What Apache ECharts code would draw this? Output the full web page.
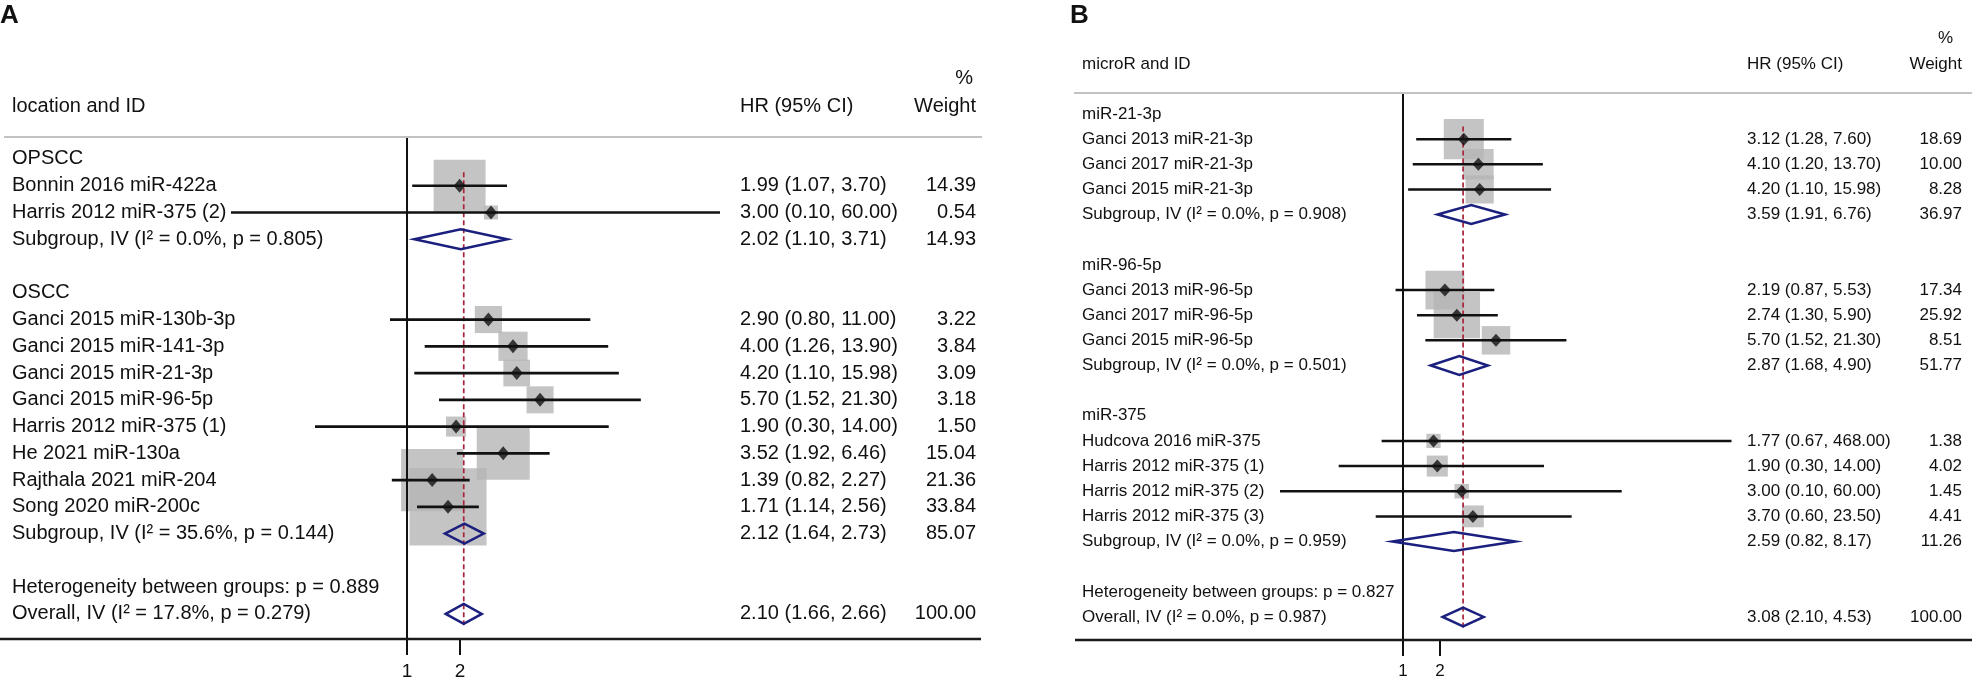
<!DOCTYPE html>
<html><head><meta charset="utf-8">
<script src="https://cdn.jsdelivr.net/npm/echarts@6.0.0/dist/echarts.min.js"></script>
<style>html,body{margin:0;padding:0;background:#fff}#c{width:1972px;height:680px}</style>
</head><body><div id="c"></div>
<script>
const FONT = "'Liberation Sans', Arial, Helvetica, sans-serif";

// ---------- Panel A data ----------
const rowsA = [
  "OPSCC",
  "Bonnin 2016 miR-422a",
  "Harris 2012 miR-375 (2)",
  "Subgroup, IV (I\u00b2 = 0.0%, p = 0.805)",
  "",
  "OSCC",
  "Ganci 2015 miR-130b-3p",
  "Ganci 2015 miR-141-3p",
  "Ganci 2015 miR-21-3p",
  "Ganci 2015 miR-96-5p",
  "Harris 2012 miR-375 (1)",
  "He 2021 miR-130a",
  "Rajthala 2021 miR-204",
  "Song 2020 miR-200c",
  "Subgroup, IV (I\u00b2 = 35.6%, p = 0.144)",
  "",
  "Heterogeneity between groups: p = 0.889",
  "Overall, IV (I\u00b2 = 17.8%, p = 0.279)"
];
const hrA = [null, 1.99, 3.00, 2.02, null, null, 2.90, 4.00, 4.20, 5.70, 1.90, 3.52, 1.39, 1.71, 2.12, null, null, 2.10];
const loA = [null, 1.07, 0.10, 1.10, null, null, 0.80, 1.26, 1.10, 1.52, 0.30, 1.92, 0.82, 1.14, 1.64, null, null, 1.66];
const hiA = [null, 3.70, 60.00, 3.71, null, null, 11.00, 13.90, 15.98, 21.30, 14.00, 6.46, 2.27, 2.56, 2.73, null, null, 2.66];
const wA  = [null, 14.39, 0.54, 14.93, null, null, 3.22, 3.84, 3.09, 3.18, 1.50, 15.04, 21.36, 33.84, 85.07, null, null, 100.00];
const pooledA = [3, 14, 17];
const overallA = 2.10;
const ticksA = [1, 2];

// ---------- Panel B data ----------
const rowsB = [
  "miR-21-3p",
  "Ganci 2013 miR-21-3p",
  "Ganci 2017 miR-21-3p",
  "Ganci 2015 miR-21-3p",
  "Subgroup, IV (I\u00b2 = 0.0%, p = 0.908)",
  "",
  "miR-96-5p",
  "Ganci 2013 miR-96-5p",
  "Ganci 2017 miR-96-5p",
  "Ganci 2015 miR-96-5p",
  "Subgroup, IV (I\u00b2 = 0.0%, p = 0.501)",
  "",
  "miR-375",
  "Hudcova 2016 miR-375",
  "Harris 2012 miR-375 (1)",
  "Harris 2012 miR-375 (2)",
  "Harris 2012 miR-375 (3)",
  "Subgroup, IV (I\u00b2 = 0.0%, p = 0.959)",
  "",
  "Heterogeneity between groups: p = 0.827",
  "Overall, IV (I\u00b2 = 0.0%, p = 0.987)"
];
const hrB = [null, 3.12, 4.10, 4.20, 3.59, null, null, 2.19, 2.74, 5.70, 2.87, null, null, 1.77, 1.90, 3.00, 3.70, 2.59, null, null, 3.08];
const loB = [null, 1.28, 1.20, 1.10, 1.91, null, null, 0.87, 1.30, 1.52, 1.68, null, null, 0.67, 0.30, 0.10, 0.60, 0.82, null, null, 2.10];
const hiB = [null, 7.60, 13.70, 15.98, 6.76, null, null, 5.53, 5.90, 21.30, 4.90, null, null, 468.00, 14.00, 60.00, 23.50, 8.17, null, null, 4.53];
const wB  = [null, 18.69, 10.00, 8.28, 36.97, null, null, 17.34, 25.92, 8.51, 51.77, null, null, 1.38, 4.02, 1.45, 4.41, 11.26, null, null, 100.00];
const pooledB = [4, 10, 17, 20];
const overallB = 3.08;
const ticksB = [1, 2];

// ---------- layout (positions / styles) ----------
const layoutA = {left:231, width:489, rowTop:145.6, band:26.76, frameTop:137, frameBottom:639,
  min:0.1, max:60, font:20, tickFont:19, labelX:12, hrX:740, wX:976,
  boxK:12.4, boxC:4.9, mark:[12,14], ciW:2.7};
const layoutB = {left:1280, width:455, rowTop:101.4, band:25.15, frameTop:93, frameBottom:640,
  min:0.1, max:500, font:17, tickFont:17, labelX:1082, hrX:1747, wX:1962,
  boxK:8.2, boxC:4.6, mark:[12,13], ciW:2.5};

const TXT = '#111';
const NAVY = '#1b1f7e';
const DASH = '#a8243a';

const option = {animation:false, backgroundColor:'#fff', grid:[], xAxis:[], yAxis:[], series:[], graphic:[]};

function addPanel(rows, hr, lo, hi, w, pooled, overall, ticks, L) {
  const n = rows.length;
  const g0 = option.grid.length, g1 = g0 + 1;
  const x0 = option.xAxis.length, x1 = x0 + 1;
  const y0 = option.yAxis.length, y3 = y0 + 3;
  const fmt = v => v.toFixed(2);
  const hrText = rows.map((_, i) => hr[i] == null ? '' : fmt(hr[i]) + ' (' + fmt(lo[i]) + ', ' + fmt(hi[i]) + ')');
  const wText = rows.map((_, i) => w[i] == null ? '' : fmt(w[i]));
  const studies = rows.map((_, i) => i).filter(i => hr[i] != null && pooled.indexOf(i) < 0);

  option.grid.push(
    {left:L.left, width:L.width, top:L.rowTop, height:L.band * n, containLabel:false, outerBoundsMode:'none'},
    {left:L.left, width:L.width, top:L.frameTop, height:L.frameBottom - L.frameTop, containLabel:false, outerBoundsMode:'none'}
  );
  option.xAxis.push(
    {type:'log', logBase:10, gridIndex:g0, min:L.min, max:L.max, show:false},
    {type:'log', logBase:10, gridIndex:g1, min:L.min, max:L.max,
      axisLine:{show:false}, splitLine:{show:false}, minorTick:{show:false},
      axisTick:{show:true, customValues:ticks, length:16, lineStyle:{color:TXT, width:2}},
      axisLabel:{customValues:ticks, fontSize:L.tickFont, fontFamily:FONT, color:TXT, margin:23}}
  );
  const cat = {type:'category', gridIndex:g0, inverse:true, axisLine:{show:false}, axisTick:{show:false}, splitLine:{show:false}};
  const lab = {interval:0, fontSize:L.font, fontFamily:FONT, color:TXT};
  const right = L.left + L.width;
  option.yAxis.push(
    Object.assign({}, cat, {position:'left', data:rows, axisLabel:Object.assign({}, lab, {align:'left', margin:L.left - L.labelX})}),
    Object.assign({}, cat, {position:'right', offset:0, data:hrText, axisLabel:Object.assign({}, lab, {align:'left', margin:L.hrX - right})}),
    Object.assign({}, cat, {position:'right', offset:0, data:wText, axisLabel:Object.assign({}, lab, {align:'right', margin:L.wX - right})}),
    {type:'value', gridIndex:g1, min:0, max:1, show:false}
  );

  // weight boxes
  option.series.push({
    type:'scatter', xAxisIndex:x0, yAxisIndex:y0, z:1, silent:true, clip:false,
    symbol:'rect', symbolSize: v => L.boxK * Math.sqrt(v[2]) + L.boxC,
    itemStyle:{color:'#b5b5b5'},
    data: studies.map(i => [hr[i], i, w[i]])
  });
  // overall dashed reference line (from first study row to overall row)
  option.series.push({
    type:'custom', xAxisIndex:x0, yAxisIndex:y0, z:2, silent:true,
    encode:{x:0, y:[1,2]},
    data:[[overall, studies[0], n - 1]],
    renderItem:(p, api) => {
      const a = api.coord([api.value(0), api.value(1)]);
      const b = api.coord([api.value(0), api.value(2)]);
      const hb = api.size([0, 1])[1] / 2;
      return {type:'line', shape:{x1:a[0], y1:a[1] - hb, x2:b[0], y2:b[1] + hb},
        style:{stroke:DASH, lineWidth:1.7, lineDash:[5,3]}};
    }
  });
  // confidence intervals
  option.series.push({
    type:'custom', xAxisIndex:x0, yAxisIndex:y0, z:3, silent:true,
    encode:{x:[0,1], y:2},
    data: studies.map(i => [lo[i], hi[i], i]),
    renderItem:(p, api) => {
      const a = api.coord([api.value(0), api.value(2)]);
      const b = api.coord([api.value(1), api.value(2)]);
      return {type:'line', shape:{x1:a[0], y1:a[1], x2:b[0], y2:b[1]},
        style:{stroke:TXT, lineWidth:L.ciW}};
    }
  });
  // point estimates
  option.series.push({
    type:'scatter', xAxisIndex:x0, yAxisIndex:y0, z:4, silent:true, clip:false,
    symbol:'diamond', symbolSize:L.mark, itemStyle:{color:TXT},
    data: studies.map(i => [hr[i], i])
  });
  // pooled diamonds
  option.series.push({
    type:'custom', xAxisIndex:x0, yAxisIndex:y0, z:4, silent:true,
    encode:{x:[0,1,2], y:3},
    data: pooled.map(i => [lo[i], hi[i], hr[i], i]),
    renderItem:(p, api) => {
      const l = api.coord([api.value(0), api.value(3)]);
      const r = api.coord([api.value(1), api.value(3)]);
      const c = api.coord([api.value(2), api.value(3)]);
      const h = api.size([0, 1])[1] * 0.375;
      return {type:'polygon', shape:{points:[[l[0], c[1]], [c[0], c[1] - h], [r[0], c[1]], [c[0], c[1] + h]]},
        style:{fill:'none', stroke:NAVY, lineWidth:2.5, lineJoin:'miter'}};
    }
  });
  // null line at HR = 1
  option.series.push({
    type:'line', xAxisIndex:x1, yAxisIndex:y3, z:3, silent:true, symbol:'none',
    lineStyle:{color:TXT, width:2}, data:[[1, 0], [1, 1]]
  });
}

addPanel(rowsA, hrA, loA, hiA, wA, pooledA, overallA, ticksA, layoutA);
addPanel(rowsB, hrB, loB, hiB, wB, pooledB, overallB, ticksB, layoutB);

function txt(t, x, y, size, align, bold) {
  return {type:'text', silent:true, z:10, style:{text:t, x:x, y:y, fill:TXT,
    font:(bold ? 'bold ' : '') + size + 'px ' + FONT, textAlign:align, textVerticalAlign:'middle'}};
}
function hline(x1, x2, y, color, width) {
  return {type:'line', silent:true, z:5, shape:{x1:x1, y1:y, x2:x2, y2:y}, style:{stroke:color, lineWidth:width}};
}
option.graphic = [
  txt('A', 0, 16, 26, 'left', true),
  txt('location and ID', 12, 106, 20, 'left'),
  txt('HR (95% CI)', 740, 106, 20, 'left'),
  txt('%', 973, 78, 20, 'right'),
  txt('Weight', 976, 106, 20, 'right'),
  hline(4, 982, 137, '#c2c2c2', 2),
  hline(0, 981, 639, '#1a1a1a', 2.5),
  txt('B', 1070, 16, 26, 'left', true),
  txt('microR and ID', 1082, 64, 17, 'left'),
  txt('HR (95% CI)', 1747, 64, 17, 'left'),
  txt('%', 1953, 38, 17, 'right'),
  txt('Weight', 1962, 64, 17, 'right'),
  hline(1074, 1972, 93, '#c2c2c2', 2),
  hline(1075, 1972, 640, '#1a1a1a', 2.5)
];

const chart = echarts.init(document.getElementById('c'), null, {renderer:'canvas'});
chart.setOption(option);
</script></body></html>
